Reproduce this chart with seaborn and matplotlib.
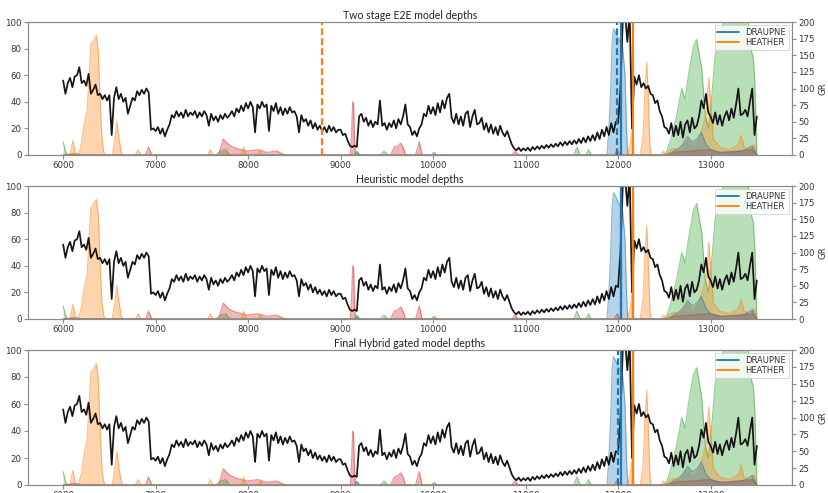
import numpy as np
import pandas as pd
import matplotlib
matplotlib.use("Agg")
import matplotlib.pyplot as plt
from matplotlib.lines import Line2D
import seaborn as sns

# ---------------------------------------------------------------- data
DEPTH_START = 6000
DEPTH_STEP = 25

# Gamma ray log (API), one sample every 25 ft from 6000 to 13500
gr_values = [
    112, 92, 108, 116, 102, 118, 120, 132, 108, 112, 104, 122, 92, 98, 106, 90, 92, 84, 90, 82,
    90, 30, 86, 102, 84, 92, 80, 86, 62, 74, 86, 82, 96, 90, 98, 92, 100, 94, 38, 40,
    36, 42, 32, 40, 28, 38, 46, 60, 56, 66, 58, 64, 56, 68, 58, 64, 60, 66, 56, 64,
    58, 66, 60, 44, 62, 52, 58, 50, 60, 54, 62, 56, 60, 66, 58, 70, 64, 74, 66, 78,
    70, 80, 72, 34, 76, 70, 80, 72, 76, 36, 74, 66, 78, 62, 72, 60, 70, 62, 72, 64,
    66, 58, 34, 60, 50, 54, 44, 52, 40, 48, 38, 44, 36, 42, 34, 44, 36, 42, 34, 38,
    38, 30, 32, 22, 14, 12, 14, 12, 58, 62, 50, 56, 44, 52, 42, 50, 46, 82, 44, 48,
    38, 48, 42, 52, 40, 54, 46, 58, 76, 46, 42, 30, 36, 28, 40, 46, 62, 58, 74, 62,
    72, 60, 78, 64, 82, 70, 86, 92, 56, 48, 62, 46, 58, 44, 62, 66, 42, 58, 68, 46,
    48, 56, 38, 48, 34, 46, 32, 42, 30, 44, 34, 28, 36, 26, 16, 10, 7, 11, 6, 10,
    7, 11, 6, 12, 8, 13, 9, 14, 10, 15, 11, 16, 12, 17, 13, 19, 14, 20, 15, 21,
    16, 22, 17, 24, 18, 26, 19, 28, 21, 30, 22, 34, 24, 38, 28, 42, 30, 48, 34, 50,
    48, 100, 200, 215, 170, 215, 40, 118, 106, 120, 102, 108, 100, 104, 92, 90, 78, 82, 66, 58,
    42, 40, 32, 48, 28, 44, 30, 50, 26, 46, 52, 34, 56, 40, 44, 58, 82, 70, 92, 64,
    58, 48, 64, 46, 60, 44, 58, 66, 52, 70, 56, 76, 100, 60, 62, 68, 58, 80, 100, 30,
    58,
]

# Class probabilities (%) -- depth / value pairs per class
heather_depth = [6000, 6075, 6105, 6135, 6150, 6180, 6200, 6220, 6240, 6260, 6280, 6300, 6320,
                 6340, 6360, 6380, 6400, 6420, 6440, 6460, 6530, 6555, 6580, 6605, 6630, 6650,
                 6780, 6810, 6840, 7560, 7590, 7620, 7920, 7950, 7980, 8100, 8130, 8160,
                 12100, 12130, 12150, 12170, 12240, 12270, 12290, 12310, 12325, 12345, 12360,
                 12460, 12490, 12520, 12550, 12600, 12650, 12700, 12750, 12800, 12850, 12900,
                 12950, 12980, 13000, 13030, 13100, 13200, 13300, 13330, 13360, 13420, 13470, 13500]
heather_prob = [0, 0, 11, 0, 0, 4, 10, 20, 28, 34, 60, 84, 85,
                88, 90, 78, 40, 12, 2, 0, 0, 10, 25, 12, 2, 0,
                0, 4, 0, 0, 4, 0, 0, 6, 0, 0, 3, 0,
                0, 8, 18, 0, 0, 15, 50, 70, 45, 5, 0,
                0, 3, 0, 3, 5, 4, 8, 12, 6, 10, 18,
                30, 58, 40, 12, 6, 4, 8, 15, 6, 4, 8, 0]

draupne_depth = [6000, 9150, 9175, 9200, 11880, 11900, 11920, 11935, 11950, 11975, 12000,
                 12025, 12050, 12075, 12090, 12105, 12550, 12600, 12650, 12700, 12750, 12800,
                 12850, 12900, 12950, 13000, 13100, 13200, 13350, 13450, 13500]
draupne_prob = [0, 0, 3, 0, 0, 20, 50, 85, 95, 92, 88,
                85, 80, 60, 20, 0, 0, 3, 5, 8, 14, 10,
                12, 17, 8, 4, 2, 2, 3, 7, 0]

green_depth = [6000, 6020, 6040, 7650, 7700, 7760, 7800, 9150, 9180, 9210, 9430, 9470, 9510,
               11520, 11555, 11590, 11650, 11680, 11710, 12510, 12562, 12634, 12688, 12724,
               12760, 12814, 12850, 12904, 12941, 12977, 13013, 13049, 13103, 13139, 13409,
               13427, 13463, 13481, 13500]
green_prob = [10, 4, 0, 0, 3, 4, 0, 0, 2, 0, 0, 3, 0,
              0, 6, 0, 0, 4, 0, 0, 10, 30, 50, 42,
              60, 82, 87, 65, 30, 20, 45, 75, 92, 100, 100,
              82, 72, 50, 0]

red_depth = [6000, 6100, 6150, 6200, 6890, 6922, 6960, 7680, 7730, 7803, 7876, 7984, 8110,
             8200, 8308, 8400, 9105, 9120, 9130, 9140, 9150, 9160, 9540, 9580, 9620, 9650,
             9680, 9700, 9810, 9850, 9880, 9980, 10010, 10040, 10850, 10886, 10920,
             11960, 11990, 12020, 12500, 12600, 12800, 13000, 13100, 13300, 13450, 13500]
red_prob = [0, 1, 1, 0, 0, 6, 0, 0, 12, 7, 5, 3, 4,
            2, 3, 0, 0, 20, 40, 38, 10, 0, 0, 6, 7, 9,
            5, 0, 0, 10, 0, 0, 2, 0, 0, 3, 0,
            0, 4, 0, 0, 2, 3, 4, 2, 3, 4, 0]

# Formation tops: true and predicted per model
panel_titles = ["Two stage E2E model depths",
                "Heuristic model depths",
                "Final Hybrid gated model depths"]
true_draupne = 12030
true_heather = 12160
pred_draupne = [11990, 12030, 11995]
pred_heather = [8800, 12160, 12160]

# ---------------------------------------------------------------- style
sns.set_style("ticks")
plt.rcParams["font.family"] = ["DejaVu Sans"]
plt.rcParams["axes.edgecolor"] = "#8a8a8a"
plt.rcParams["xtick.color"] = "#8a8a8a"
plt.rcParams["ytick.color"] = "#8a8a8a"
plt.rcParams["xtick.labelcolor"] = "#333333"
plt.rcParams["ytick.labelcolor"] = "#333333"

C_BLUE, C_ORANGE, C_GREEN, C_RED = "#1f77b4", "#ff7f0e", "#2ca02c", "#d62728"

depth = DEPTH_START + DEPTH_STEP * np.arange(len(gr_values))
gr_df = pd.DataFrame({"depth": depth, "GR": gr_values})

prob_series = [
    (green_depth, green_prob, C_GREEN),
    (red_depth, red_prob, C_RED),
    (heather_depth, heather_prob, C_ORANGE),
    (draupne_depth, draupne_prob, C_BLUE),
]

fig = plt.figure(figsize=(8.29, 4.93), dpi=100)
W, H = 829, 493
panel_px = [(22, 155), (186, 319), (350, 485)]
left_px, right_px = 28, 792

for i, (top, bottom) in enumerate(panel_px):
    ax = fig.add_axes([left_px / W, 1 - bottom / H,
                       (right_px - left_px) / W, (bottom - top) / H])
    ax2 = ax.twinx()

    # probability fills on the left axis
    for d, p, col in prob_series:
        ax.fill_between(d, p, 0, color=col, alpha=0.33, linewidth=0)
        sns.lineplot(x=d, y=p, ax=ax, color=col, alpha=0.5, linewidth=0.8,
                     estimator=None, sort=False, legend=False)

    ax.set_xlim(5620, 13880)
    ax.set_ylim(0, 100)
    ax.set_yticks([0, 20, 40, 60, 80, 100])
    ax.set_xticks([6000, 7000, 8000, 9000, 10000, 11000, 12000, 13000])
    ax.set_ylabel("")
    ax.set_xlabel("")
    ax.tick_params(labelsize=6.2, length=3, width=0.8, pad=1.5)
    ax.set_title(panel_titles[i], fontsize=7.6, pad=2.5, color="#222222",
                 family=["Lato", "DejaVu Sans"])

    # gamma ray curve on the right axis
    sns.lineplot(data=gr_df, x="depth", y="GR", ax=ax2, color="#151515",
                 linewidth=1.25, estimator=None, legend=False)
    ax2.set_ylim(0, 200)
    ax2.set_yticks([0, 25, 50, 75, 100, 125, 150, 175, 200])
    ax2.set_ylabel("GR", fontsize=6.2, labelpad=3, color="#333333")
    ax2.set_xlabel("")
    ax2.tick_params(labelsize=6.2, length=3, width=0.8, pad=1.5)

    # predicted (dashed) then true (solid) formation tops
    ax2.axvline(pred_draupne[i], color=C_BLUE, linestyle="--", linewidth=1.6, dashes=(3, 1.5))
    ax2.axvline(pred_heather[i], color=C_ORANGE, linestyle="--", linewidth=1.6, dashes=(3, 1.5))
    ax2.axvline(true_draupne, color=C_BLUE, linewidth=1.6)
    ax2.axvline(true_heather, color=C_ORANGE, linewidth=1.6)

    handles = [Line2D([0], [0], color=C_BLUE, linewidth=1.3),
               Line2D([0], [0], color=C_ORANGE, linewidth=1.3)]
    leg = ax2.legend(handles, ["DRAUPNE", "HEATHER"], loc="upper right", fontsize=6,
                     frameon=True, fancybox=False, handlelength=2.6, borderpad=0.3,
                     labelspacing=0.15, borderaxespad=0.4)
    leg.get_frame().set_edgecolor("#cccccc")
    leg.get_frame().set_linewidth(0.6)
    for t in leg.get_texts():
        t.set_color("#333333")

fig.savefig("out.png", dpi=100)
